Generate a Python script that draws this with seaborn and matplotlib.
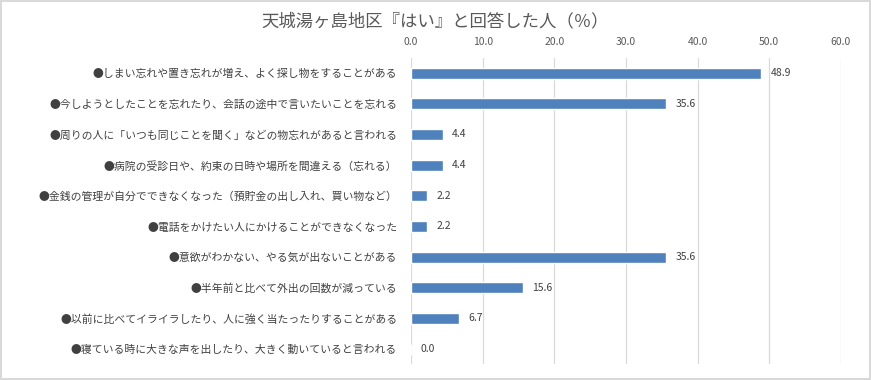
import pandas as pd
import seaborn as sns
import matplotlib.pyplot as plt

# data
items = [
    '●しまい忘れや置き忘れが増え、よく探し物をすることがある',
    '●今しようとしたことを忘れたり、会話の途中で言いたいことを忘れる',
    '●周りの人に「いつも同じことを聞く」などの物忘れがあると言われる',
    '●病院の受診日や、約束の日時や場所を間違える（忘れる）',
    '●金銭の管理が自分でできなくなった（預貯金の出し入れ、買い物など）',
    '●電話をかけたい人にかけることができなくなった',
    '●意欲がわかない、やる気が出ないことがある',
    '●半年前と比べて外出の回数が減っている',
    '●以前に比べてイライラしたり、人に強く当たったりすることがある',
    '●寝ている時に大きな声を出したり、大きく動いていると言われる',
]
values = [48.9, 35.6, 4.4, 4.4, 2.2, 2.2, 35.6, 15.6, 6.7, 0.0]
x_ticks = [0, 10, 20, 30, 40, 50, 60]

df = pd.DataFrame({'item': items, 'pct': values})

sns.set_theme(style='white')
plt.rcParams['font.family'] = ['Noto Sans CJK JP', 'DejaVu Sans']

fig = plt.figure(figsize=(8.71, 3.80), dpi=100)
fig.patch.set_edgecolor('#d9d9d9')
fig.patch.set_linewidth(1.5)
ax = fig.add_axes([0.4719, 0.041, 0.4936, 0.807])

sns.barplot(data=df, x='pct', y='item', color='#4f81bd', saturation=1,
            width=0.36, ax=ax)

for i, v in enumerate(values):
    ax.text(v + 1.3, i, f'{v:.1f}', va='center', ha='left',
            fontsize=7.5, color='#404040')

ax.set_xlim(0, 60)
ax.set_xticks(x_ticks)
ax.set_xticklabels([f'{t:.1f}' for t in x_ticks])
ax.xaxis.tick_top()
ax.tick_params(axis='x', labelsize=7.5, colors='#595959', length=0, pad=8)
ax.tick_params(axis='y', labelsize=7.8, colors='#404040', length=0, pad=10)
ax.grid(axis='x', color='#d9d9d9', linewidth=0.9)
ax.set_axisbelow(True)
ax.set_xlabel('')
ax.set_ylabel('')
for s in ax.spines.values():
    s.set_visible(False)

fig.text(0.5, 0.945, '天城湯ヶ島地区『はい』と回答した人（％）', ha='center',
         va='center', fontsize=12.5, color='#595959')

plt.savefig('out.png', dpi=100)
plt.close()
